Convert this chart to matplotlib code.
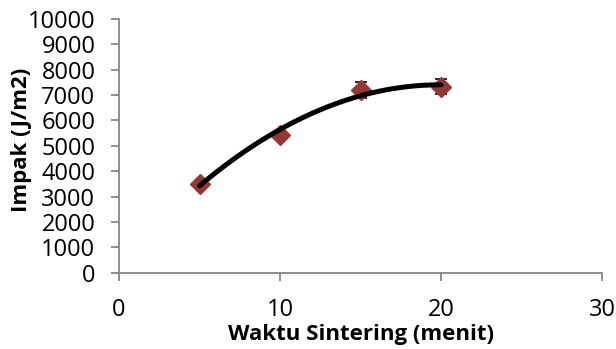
import numpy as np
import matplotlib
matplotlib.use("Agg")
from matplotlib import pyplot as plt

# sintering time (minutes) vs impact strength
waktu = [5, 10, 15, 20]
impak = [3500, 5420, 7200, 7330]
impak_err = [120, 120, 320, 300]

plt.rcParams['font.family'] = ['Open Sans', 'DejaVu Sans']

fig = plt.figure(figsize=(6.16, 3.49), dpi=100)
ax = fig.add_axes([0.1932, 0.2186, 0.7841, 0.727])

axis_grey = '#868686'
marker_red = '#953735'

ax.errorbar(waktu, impak, yerr=impak_err, fmt='none', ecolor='black',
            elinewidth=1.0, capsize=4, capthick=1.2, zorder=2)
ax.plot(waktu, impak, linestyle='none', marker='D', markersize=10,
        color=marker_red, markeredgecolor=marker_red, zorder=3)

# second order polynomial trendline
coef = np.polyfit(waktu, impak, 2)
xs = np.linspace(min(waktu), max(waktu), 200)
ax.plot(xs, np.polyval(coef, xs), color='black', linewidth=3.6,
        solid_capstyle='round', zorder=4)

ax.set_xlim(0, 30)
ax.set_ylim(0, 10000)
ax.set_xticks([0, 10, 20, 30])
ax.set_yticks(np.arange(0, 10001, 1000))

for side in ['top', 'right']:
    ax.spines[side].set_visible(False)
for side in ['left', 'bottom']:
    ax.spines[side].set_color(axis_grey)
    ax.spines[side].set_linewidth(1.3)

ax.tick_params(axis='both', direction='out', length=6, width=1.3,
               color=axis_grey, labelsize=17, labelcolor='black')
ax.tick_params(axis='x', pad=12)
ax.tick_params(axis='y', pad=11)

ax.set_xlabel('Waktu Sintering (menit)', fontsize=16, fontweight='bold',
              labelpad=2)
ax.set_ylabel('Impak (J/m2)', fontsize=16, fontweight='bold')
ax.yaxis.set_label_coords(-0.18, 0.525)

fig.savefig('out.png', dpi=100)
